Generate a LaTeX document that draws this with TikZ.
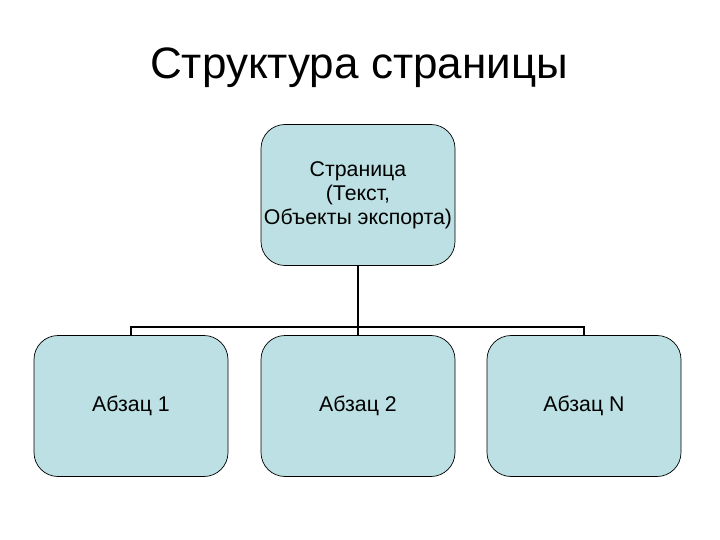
\documentclass[tikz,border=0pt]{standalone}
\usepackage{fontspec}
\setmainfont{Liberation Sans}
\definecolor{boxfill}{RGB}{188,224,227}
\begin{document}
\begin{tikzpicture}[x=1pt,y=-1pt,
		block/.style={draw=black,line width=0.7pt,fill=boxfill,rounded corners=24pt,minimum width=194pt,minimum height=141pt,align=center,font=\fontsize{21.3}{24}\selectfont,inner sep=0pt},
		link/.style={line width=2.2pt}]
				\useasboundingbox (0,0) rectangle (720,540);
				\node (title) at (359,68) {\fontsize{44}{48}\selectfont Структура страницы};
				\node[block] (page) at (358,195) {Страница\\(Текст,\\Объекты экспорта)};
				\foreach \xcoord/\name/\txt in {131/par1/Абзац 1,358/par2/Абзац 2,584/parN/Абзац N}
					\node[block] (\name) at (\xcoord,406) {\txt};
				\coordinate (split) at (358,327);
				\draw[link] (page) -- (split);
				\draw[link] (par1.north) -- (par1.north |- split) -- (parN.north |- split) -- (parN.north);
				\draw[link] (split) -- (par2.north);
			\end{tikzpicture}
\end{document}
